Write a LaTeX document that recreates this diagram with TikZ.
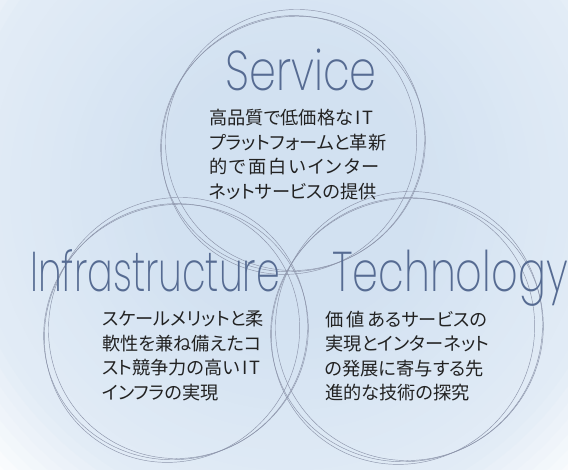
\documentclass[tikz,border=0pt]{standalone}
\usepackage{fontspec}
\usepackage{tikz}
\newfontfamily\headfont{Poppins}[UprightFont=* ExtraLight]
\newfontfamily\jpfont{Noto Sans CJK JP}[RawFeature=+palt]
\definecolor{bgin}{HTML}{D2E1F1}
\definecolor{ringcol}{HTML}{8C94AA}
\definecolor{headcol}{HTML}{566B92}
\definecolor{bodycol}{HTML}{222222}
\newcommand{\itword}{\hspace{2pt}I\hspace{2.5pt}T}

\begin{document}
\begin{tikzpicture}[
    x=1pt, y=-1pt,
    ring/.style={draw=ringcol, line width=0.45pt},
    head/.style={font=\headfont\fontsize{56}{56}\selectfont, text=headcol, inner sep=0pt, anchor=base west},
    body/.style={font=\jpfont\fontsize{18.2}{24.5}\selectfont, text=bodycol, inner sep=0pt, anchor=north west, align=left}
]

% Background
\useasboundingbox (0,0) rectangle (568,469);
\coordinate (bgc) at (290,190);
\begin{scope}
\clip (0,0) rectangle (568,469);
\fill[white] (0,0) rectangle (568,469);
\foreach \i in {0,...,45} {
  \pgfmathsetmacro\rr{450-10*\i}
  \pgfmathsetmacro\pp{\rr>420 ? 0 : (\rr>330 ? 0.7111*(420-\rr) : (\rr>130 ? 64+0.18*(330-\rr) : 100))}
  \fill[bgin!\pp!white] (bgc) circle (\rr);
}
\end{scope}

% Circle centres
\coordinate (svc) at (292,142);
\coordinate (inf) at (175,330);
\coordinate (tec) at (406,328);

% Rings (three per circle)
\foreach \c/\r in {svc/130, inf/130, tec/134} {
  \draw[ring] ([shift={(1,2)}]\c) ellipse [x radius=\r+3, y radius=\r-3, rotate=20];
  \draw[ring] ([shift={(-3,3)}]\c) ellipse [x radius=\r-4, y radius=\r+1, rotate=-35];
  \draw[ring] ([shift={(3,-2)}]\c) ellipse [x radius=\r+1, y radius=\r-1, rotate=60];
}

% Headings
\node[head] (svchead) at (225,90) {\scalebox{0.77}[1]{Service}};
\node[head] (infhead) at (30,291) {\scalebox{0.68}[1]{Infrastructure}};
\node[head] (techead) at (332,291) {\scalebox{0.74}[1]{Technology}};

% Texts
\node[body] (svctext) at (209,109) {高品質で低価格な\itword\\プラットフォームと革新\\的\hspace{2pt}で\hspace{2pt}面\hspace{2pt}白\hspace{2pt}い\hspace{2pt}イ\hspace{2pt}ン\hspace{2pt}タ\hspace{2pt}ー\\ネットサービスの提供};
\node[body] (inftext) at (102,311) {スケールメリットと柔\\軟性を兼ね備えたコ\\スト競争力の高い\itword\\インフラの実現};
\node[body] (tectext) at (325,311) {価\hspace{3pt}値\hspace{3pt}あるサービスの\\実現とインターネット\\の発展に寄与する先\\進的な技術の探究};

\end{tikzpicture}
\end{document}
